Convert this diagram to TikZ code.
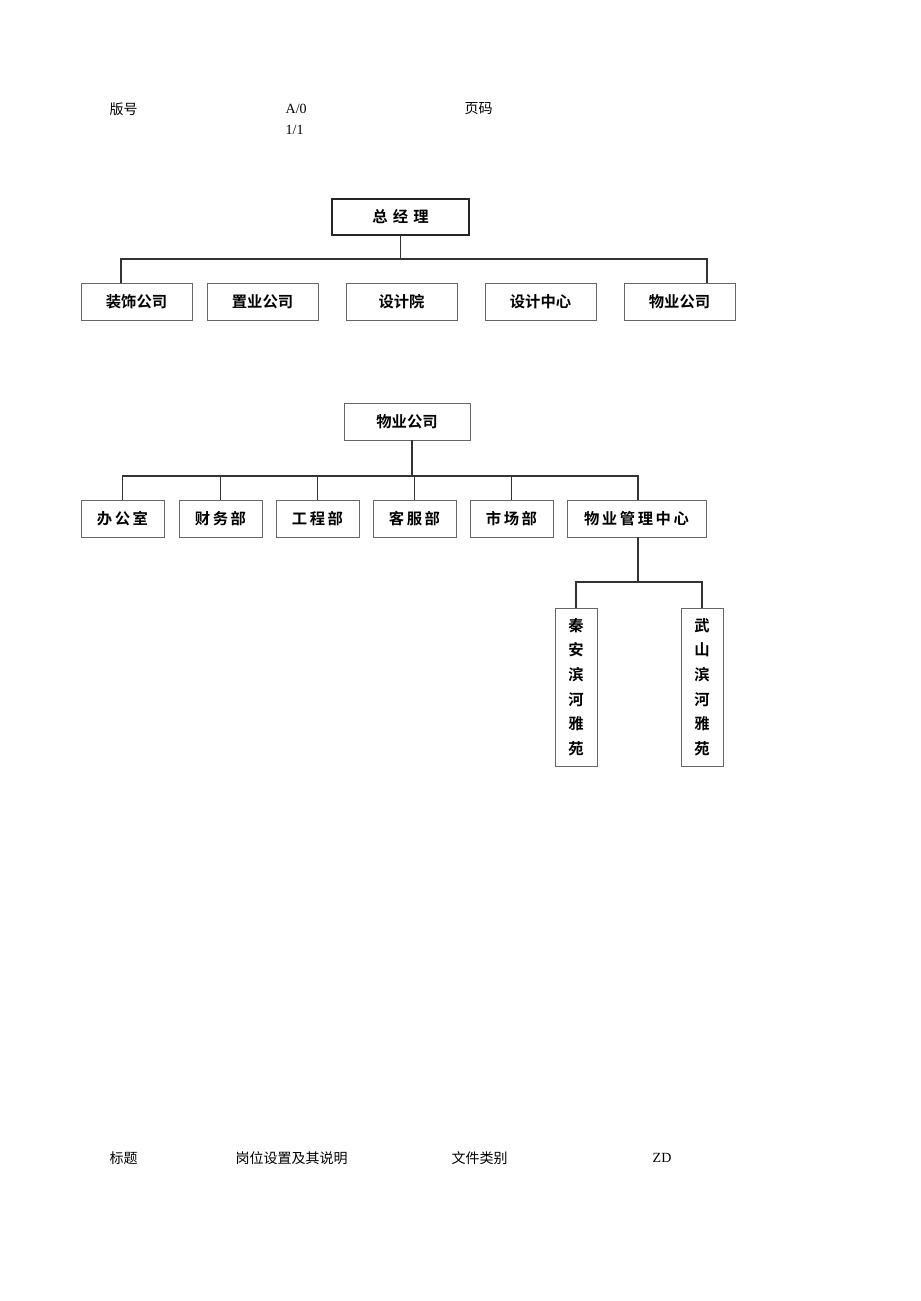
\documentclass[tikz,border=0pt]{standalone}
\usepackage{fontspec}
\setmainfont{Liberation Serif}
\newfontfamily\cjk{Noto Sans CJK SC}
\newfontfamily\cjkb{Noto Sans CJK SC Bold}
\begin{document}
\begin{tikzpicture}[x=0.75pt,y=-0.75pt,
  box/.style={draw=black!60,line width=0.7pt,inner sep=0pt,font=\cjkb\fontsize{11.5}{13}\selectfont},
  ln/.style={draw=black!80,line width=0.9pt},
  hd/.style={anchor=west,font=\cjk\fontsize{10.5}{12}\selectfont},
  hl/.style={anchor=west,font=\fontsize{10.5}{12}\selectfont}]
\useasboundingbox (0,0) rectangle (920,1301);
\fill[white] (0,0) rectangle (920,1301);
% header
\node[hd] (h1) at (105,109) {版号};
\node[hl] (h2) at (281,109) {A/0};
\node[hl] (h3) at (281,130) {1/1};
\node[hd] (h4) at (460,109) {页码};
% footer
\node[hd] (f1) at (105,1158) {标题};
\node[hd] (f2) at (231,1158) {岗位设置及其说明};
\node[hd] (f3) at (447,1158) {文件类别};
\node[hl] (f4) at (648,1158) {ZD};
% top chart
\node[box,draw=black!85,line width=1.5pt,minimum width=137*0.75pt,minimum height=36*0.75pt] (gm) at (400.5,217) {总\,\,经\,\,理};
\foreach \n/\t/\x in {a/装饰公司/136.5,b/置业公司/262.5,c/设计院/401.5,d/设计中心/540.5,e/物业公司/679.5}
  \node[box,minimum width=111*0.75pt,minimum height=37*0.75pt] (\n) at (\x,301.5) {\t};
\coordinate (j1) at (400.5,259);
\draw[ln] (gm.south) -- (j1);
\draw[ln] (a.north -| 121,0) |- (j1) -| (e.north -| 707,0);
% second chart
\node[box,minimum width=126*0.75pt,minimum height=37*0.75pt] (wy) at (407,421.5) {物业公司};
\foreach \n/\t/\x/\w in {p1/办\,公\,室/122.5/83,p2/财\,务\,部/220.5/83,p3/工\,程\,部/317.5/83,p4/客\,服\,部/414.5/83,p5/市\,场\,部/511.5/83,p6/物\,业\,管\,理\,中\,心/636.5/139}
  \node[box,minimum width=\w*0.75pt,minimum height=37*0.75pt] (\n) at (\x,518.5) {\t};
\coordinate (j2) at (412,476);
\draw[ln] (wy.south -| j2) -- (j2);
\draw[ln] (p1.north) |- (j2) -| (p6.north -| 638,0);
\foreach \n in {p2,p3,p4,p5} \draw[ln] (\n.north) -- (\n.north |- j2);
\node[box,minimum width=42*0.75pt,minimum height=158*0.75pt,align=center,font=\cjkb\fontsize{11.5}{18.5}\selectfont] (q1) at (576,687) {秦\\安\\滨\\河\\雅\\苑};
\node[box,minimum width=42*0.75pt,minimum height=158*0.75pt,align=center,font=\cjkb\fontsize{11.5}{18.5}\selectfont] (q2) at (702,687) {武\\山\\滨\\河\\雅\\苑};
\coordinate (j3) at (638,582);
\draw[ln] (p6.south -| j3) -- (j3);
\draw[ln] (q1.north) |- (j3) -| (q2.north);
\end{tikzpicture}
\end{document}
